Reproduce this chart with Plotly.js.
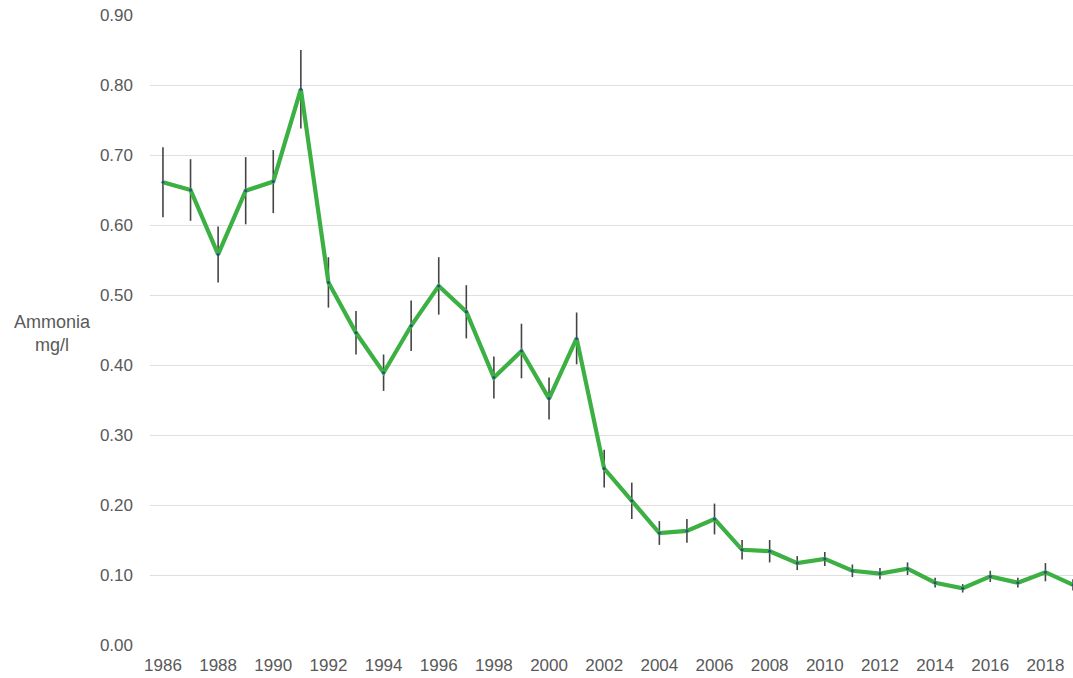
<!DOCTYPE html>
<html>
<head>
<meta charset="utf-8">
<script src="https://cdn.plot.ly/plotly-3.0.1.min.js"></script>
<style>
  html, body { margin: 0; padding: 0; background: #fff; }
  #chart { width: 1073px; height: 678px; }
</style>
</head>
<body>
<div id="chart"></div>
<script>
const years = [1986, 1987, 1988, 1989, 1990, 1991, 1992, 1993, 1994, 1995, 1996, 1997, 1998, 1999, 2000, 2001, 2002, 2003, 2004, 2005, 2006, 2007, 2008, 2009, 2010, 2011, 2012, 2013, 2014, 2015, 2016, 2017, 2018, 2019];
const ammonia = [0.661, 0.650, 0.558, 0.649, 0.662, 0.794, 0.518, 0.446, 0.389, 0.456, 0.513, 0.476, 0.382, 0.420, 0.352, 0.438, 0.252, 0.206, 0.160, 0.163, 0.180, 0.136, 0.134, 0.117, 0.123, 0.106, 0.102, 0.109, 0.089, 0.081, 0.098, 0.089, 0.104, 0.086];
const errors = [0.050, 0.044, 0.040, 0.048, 0.045, 0.056, 0.036, 0.031, 0.026, 0.036, 0.041, 0.038, 0.030, 0.039, 0.030, 0.037, 0.027, 0.026, 0.017, 0.017, 0.022, 0.014, 0.016, 0.010, 0.010, 0.009, 0.008, 0.009, 0.007, 0.006, 0.008, 0.007, 0.013, 0.008];
const xTicks = [1986, 1988, 1990, 1992, 1994, 1996, 1998, 2000, 2002, 2004, 2006, 2008, 2010, 2012, 2014, 2016, 2018];
const yTicks = [0, 0.1, 0.2, 0.3, 0.4, 0.5, 0.6, 0.7, 0.8, 0.9];

const fontFam = '"Liberation Sans", Arial, sans-serif';
const txtColor = '#595959';

const trace = {
  x: years,
  y: ammonia,
  type: 'scatter',
  mode: 'lines+markers',
  line: { color: '#3cb043', width: 4.2 },
  marker: { size: 3, color: '#2e4a8a' },
  error_y: { type: 'data', array: errors, visible: true, color: '#444444', thickness: 1.6, width: 0 },
  hoverinfo: 'x+y'
};

const layout = {
  width: 1073,
  height: 678,
  margin: { l: 150, r: 0, t: 15, b: 33 },
  paper_bgcolor: '#ffffff',
  plot_bgcolor: '#ffffff',
  showlegend: false,
  font: { family: fontFam, size: 17, color: txtColor },
  xaxis: {
    range: [1985.53, 2019.0],
    tickvals: xTicks,
    ticktext: xTicks.map(String),
    showgrid: false,
    zeroline: false,
    showline: false,
    ticks: '',
    ticklabelstandoff: 8,
    tickfont: { family: fontFam, size: 17, color: txtColor }
  },
  yaxis: {
    range: [0, 0.9],
    tickvals: yTicks,
    tickformat: '.2f',
    showgrid: true,
    gridcolor: '#e0e0e0',
    gridwidth: 1,
    zeroline: false,
    showline: false,
    ticks: '',
    ticklabelstandoff: 16,
    tickfont: { family: fontFam, size: 17, color: txtColor }
  },
  annotations: [{
    text: 'Ammonia<br>mg/l',
    xref: 'paper', yref: 'paper',
    x: -0.106, y: 0.495,
    xanchor: 'center', yanchor: 'middle',
    showarrow: false,
    align: 'center',
    font: { family: fontFam, size: 18, color: txtColor }
  }]
};

Plotly.newPlot('chart', [trace], layout, { displayModeBar: false, staticPlot: true });
</script>
</body>
</html>
